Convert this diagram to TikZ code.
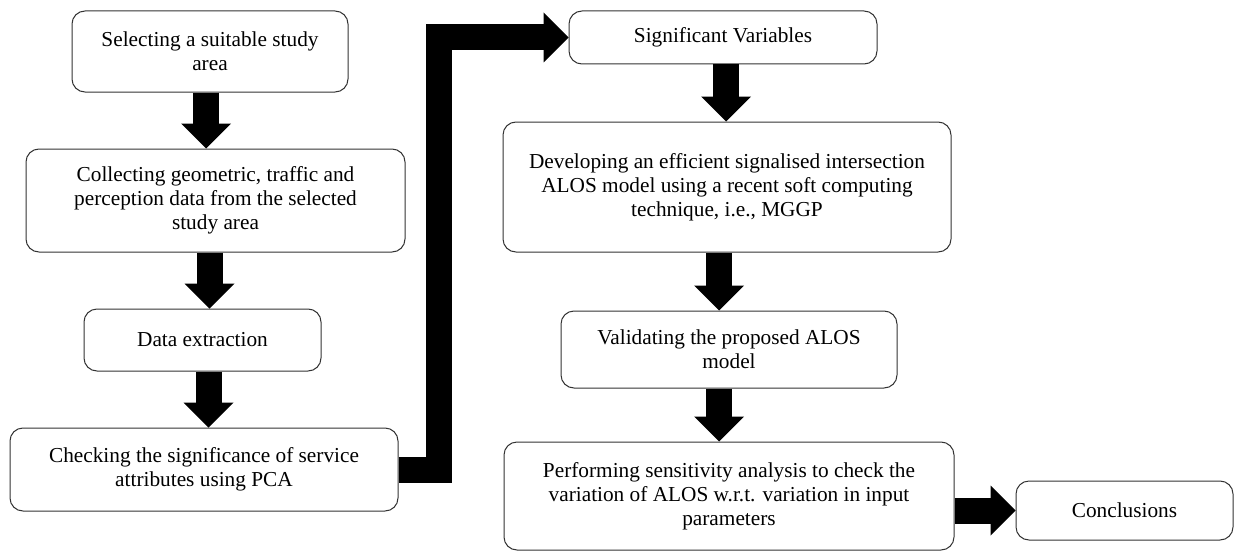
\documentclass[tikz,border=0pt]{standalone}
\usepackage{fontspec}
\setmainfont{Liberation Serif}
\usetikzlibrary{arrows.meta}

\tikzset{
  stage/.style={draw=black!80, line width=1pt, rounded corners=13pt, align=center,
    inner sep=0pt, font=\fontsize{21.3}{24}\selectfont},
  blockarrow/.style={line width=26pt, line join=miter,
    -{Triangle[length=25pt 0 0, width=50pt 0 0, line width=0pt]}}
}

\begin{document}
\begin{tikzpicture}[x=1pt, y=-1pt]
\useasboundingbox (0,0) rectangle (1234,551);
% left column
\node[stage, minimum width=276pt, minimum height=81pt] (select) at (210,51.5) {Selecting a suitable study\\area};
\node[stage, minimum width=379pt, minimum height=103pt] (collect) at (215.5,200.5) {Collecting geometric, traffic and\\perception data from the selected\\study area};
\node[stage, minimum width=237pt, minimum height=62pt] (extract) at (202.5,340) {Data extraction};
\node[stage, minimum width=388pt, minimum height=83pt] (check) at (204,469.5) {Checking the significance of service\\attributes using PCA};
% right column
\node[stage, minimum width=308pt, minimum height=53pt] (sigvar) at (723,37.5) {Significant Variables};
\node[stage, minimum width=448pt, minimum height=130pt] (develop) at (727,187) {Developing an efficient signalised intersection\\ALOS model using a recent soft computing\\technique, i.e., MGGP};
\node[stage, minimum width=336pt, minimum height=77pt] (validate) at (729,349.5) {Validating the proposed ALOS\\model};
\node[stage, minimum width=450pt, minimum height=108pt] (sensit) at (729,496) {Performing sensitivity analysis to check the\\variation of ALOS w.r.t. variation in input\\parameters};
\node[stage, minimum width=217pt, minimum height=59pt] (concl) at (1124.5,510.5) {Conclusions};
% block arrows
\draw[blockarrow] ([xshift=-4pt]select.south) -- ([xshift=-4pt]select.south |- collect.north);
\draw[blockarrow] ([xshift=-6pt]collect.south) -- ([xshift=-6pt]collect.south |- extract.north);
\draw[blockarrow] ([xshift=6pt]extract.south) -- ([xshift=6pt]extract.south |- check.north);
\draw[blockarrow] (check.east) -- ++(40.5,0) |- (sigvar.west);
\draw[blockarrow] ([xshift=3pt]sigvar.south) -- ([xshift=3pt]sigvar.south |- develop.north);
\draw[blockarrow] ([xshift=-8pt]develop.south) -- ([xshift=-8pt]develop.south |- validate.north);
\draw[blockarrow] ([xshift=-10pt]validate.south) -- ([xshift=-10pt]validate.south |- sensit.north);
\draw[blockarrow] (sensit.east |- concl.west) -- (concl.west);
\end{tikzpicture}
\end{document}
